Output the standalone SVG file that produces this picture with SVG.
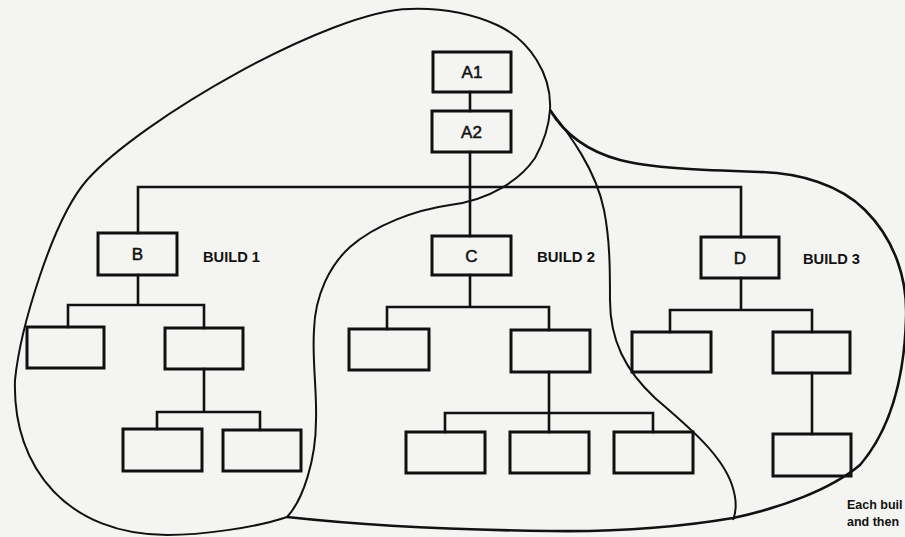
<svg xmlns="http://www.w3.org/2000/svg" width="905" height="537" viewBox="0 0 905 537">
<style>
.box{fill:none;stroke:#111;stroke-width:3}
.ln{fill:none;stroke:#111;stroke-width:2.6;stroke-linecap:square}
.cv{fill:none;stroke:#111;stroke-width:2;stroke-linejoin:round}
.cvt{fill:none;stroke:#111;stroke-width:2.6;stroke-linejoin:round}
.lbl{font-family:"Liberation Sans",Arial,sans-serif;font-size:17px;fill:#111;stroke:#111;stroke-width:0.5;text-anchor:middle}
.bld{font-family:"Liberation Sans",Arial,sans-serif;font-size:14px;font-weight:bold;fill:#111}
.note{font-family:"Liberation Sans",Arial,sans-serif;font-size:12.5px;font-weight:bold;fill:#111}
</style>
<rect x="0" y="0" width="905" height="537" fill="#f4f4f2"/>
<g id="curves">
<path class="cv" d="M550,110 C552,75 530,40 497,25 C470,13 440,8 410,9 C330,10 140,120 87,180 C52,220 20,330 15,380 C12,470 70,535 167,535 C200,535 255,528 287,517 C303,500 316,460 316,420 C317,390 312,360 314,330 C315,295 330,265 350,247 C375,225 415,210 450,205 C490,200 520,180 535,158 C545,140 549,125 550,110 Z"/>
<path class="cv" d="M550,110 C570,135 596,170 604,210 C610,240 610,270 610,300 C610,340 625,370 655,398 C690,428 722,455 732,485 C738,503 735,515 733,520"/>
<path class="cvt" d="M550,110 C565,135 590,152 620,160 C650,168 700,170 760,172 C800,173 840,185 865,210 C895,240 908,280 906,320 C904,380 890,430 860,465 C830,490 780,508 733,518 C680,527 620,532 550,531 C460,530 360,525 287,517"/>
</g>
<g id="connectors">
<path class="ln" d="M470,92 V111 M470,152 V236 M138,187 H741 M138,187 V233 M741,187 V237"/>
<path class="ln" d="M138,275 V305 M68,305 H204 M68,305 V327 M204,305 V328"/>
<path class="ln" d="M204,369 V412 M157,412 H260 M157,412 V429 M260,412 V430"/>
<path class="ln" d="M470,275 V307 M387,307 H549 M387,307 V329 M549,307 V330"/>
<path class="ln" d="M549,372 V413 M445,413 H653 M445,413 V432 M549,413 V432 M653,413 V432"/>
<path class="ln" d="M741,278 V310 M670,310 H812 M670,310 V332 M812,310 V332 M812,373 V434"/>
</g>
<g id="A1"><rect class="box" x="433" y="52" width="78" height="40"/><text class="lbl" x="472" y="78">A1</text></g>
<g id="A2"><rect class="box" x="432" y="111" width="79" height="41"/><text class="lbl" x="471.5" y="138">A2</text></g>
<g id="B"><rect class="box" x="98" y="233" width="79" height="42"/><text class="lbl" x="137.5" y="260">B</text></g>
<g id="C"><rect class="box" x="432" y="236" width="79" height="39"/><text class="lbl" x="471.5" y="262">C</text></g>
<g id="D"><rect class="box" x="701" y="237" width="78" height="41"/><text class="lbl" x="740" y="264">D</text></g>
<g id="build1"><text class="bld" x="203" y="262" textLength="57" lengthAdjust="spacingAndGlyphs">BUILD 1</text></g>
<g id="build2"><text class="bld" x="537" y="262" textLength="58" lengthAdjust="spacingAndGlyphs">BUILD 2</text></g>
<g id="build3"><text class="bld" x="803" y="264" textLength="57" lengthAdjust="spacingAndGlyphs">BUILD 3</text></g>
<g id="B1"><rect class="box" x="27" y="327" width="77" height="41"/></g>
<g id="B2"><rect class="box" x="165" y="328" width="78" height="41"/></g>
<g id="B21"><rect class="box" x="123" y="429" width="79" height="42"/></g>
<g id="B22"><rect class="box" x="223" y="430" width="78" height="41"/></g>
<g id="C1"><rect class="box" x="349" y="329" width="80" height="41"/></g>
<g id="C2"><rect class="box" x="511" y="330" width="79" height="42"/></g>
<g id="C21"><rect class="box" x="406" y="432" width="79" height="41"/></g>
<g id="C22"><rect class="box" x="510" y="432" width="79" height="41"/></g>
<g id="C23"><rect class="box" x="614" y="432" width="79" height="41"/></g>
<g id="D1"><rect class="box" x="632" y="332" width="79" height="40"/></g>
<g id="D2"><rect class="box" x="773" y="332" width="77" height="41"/></g>
<g id="D21"><rect class="box" x="773" y="434" width="78" height="42"/></g>
<g id="note"><text class="note" x="847" y="509">Each buil</text><text class="note" x="847" y="526">and then</text></g>
</svg>
